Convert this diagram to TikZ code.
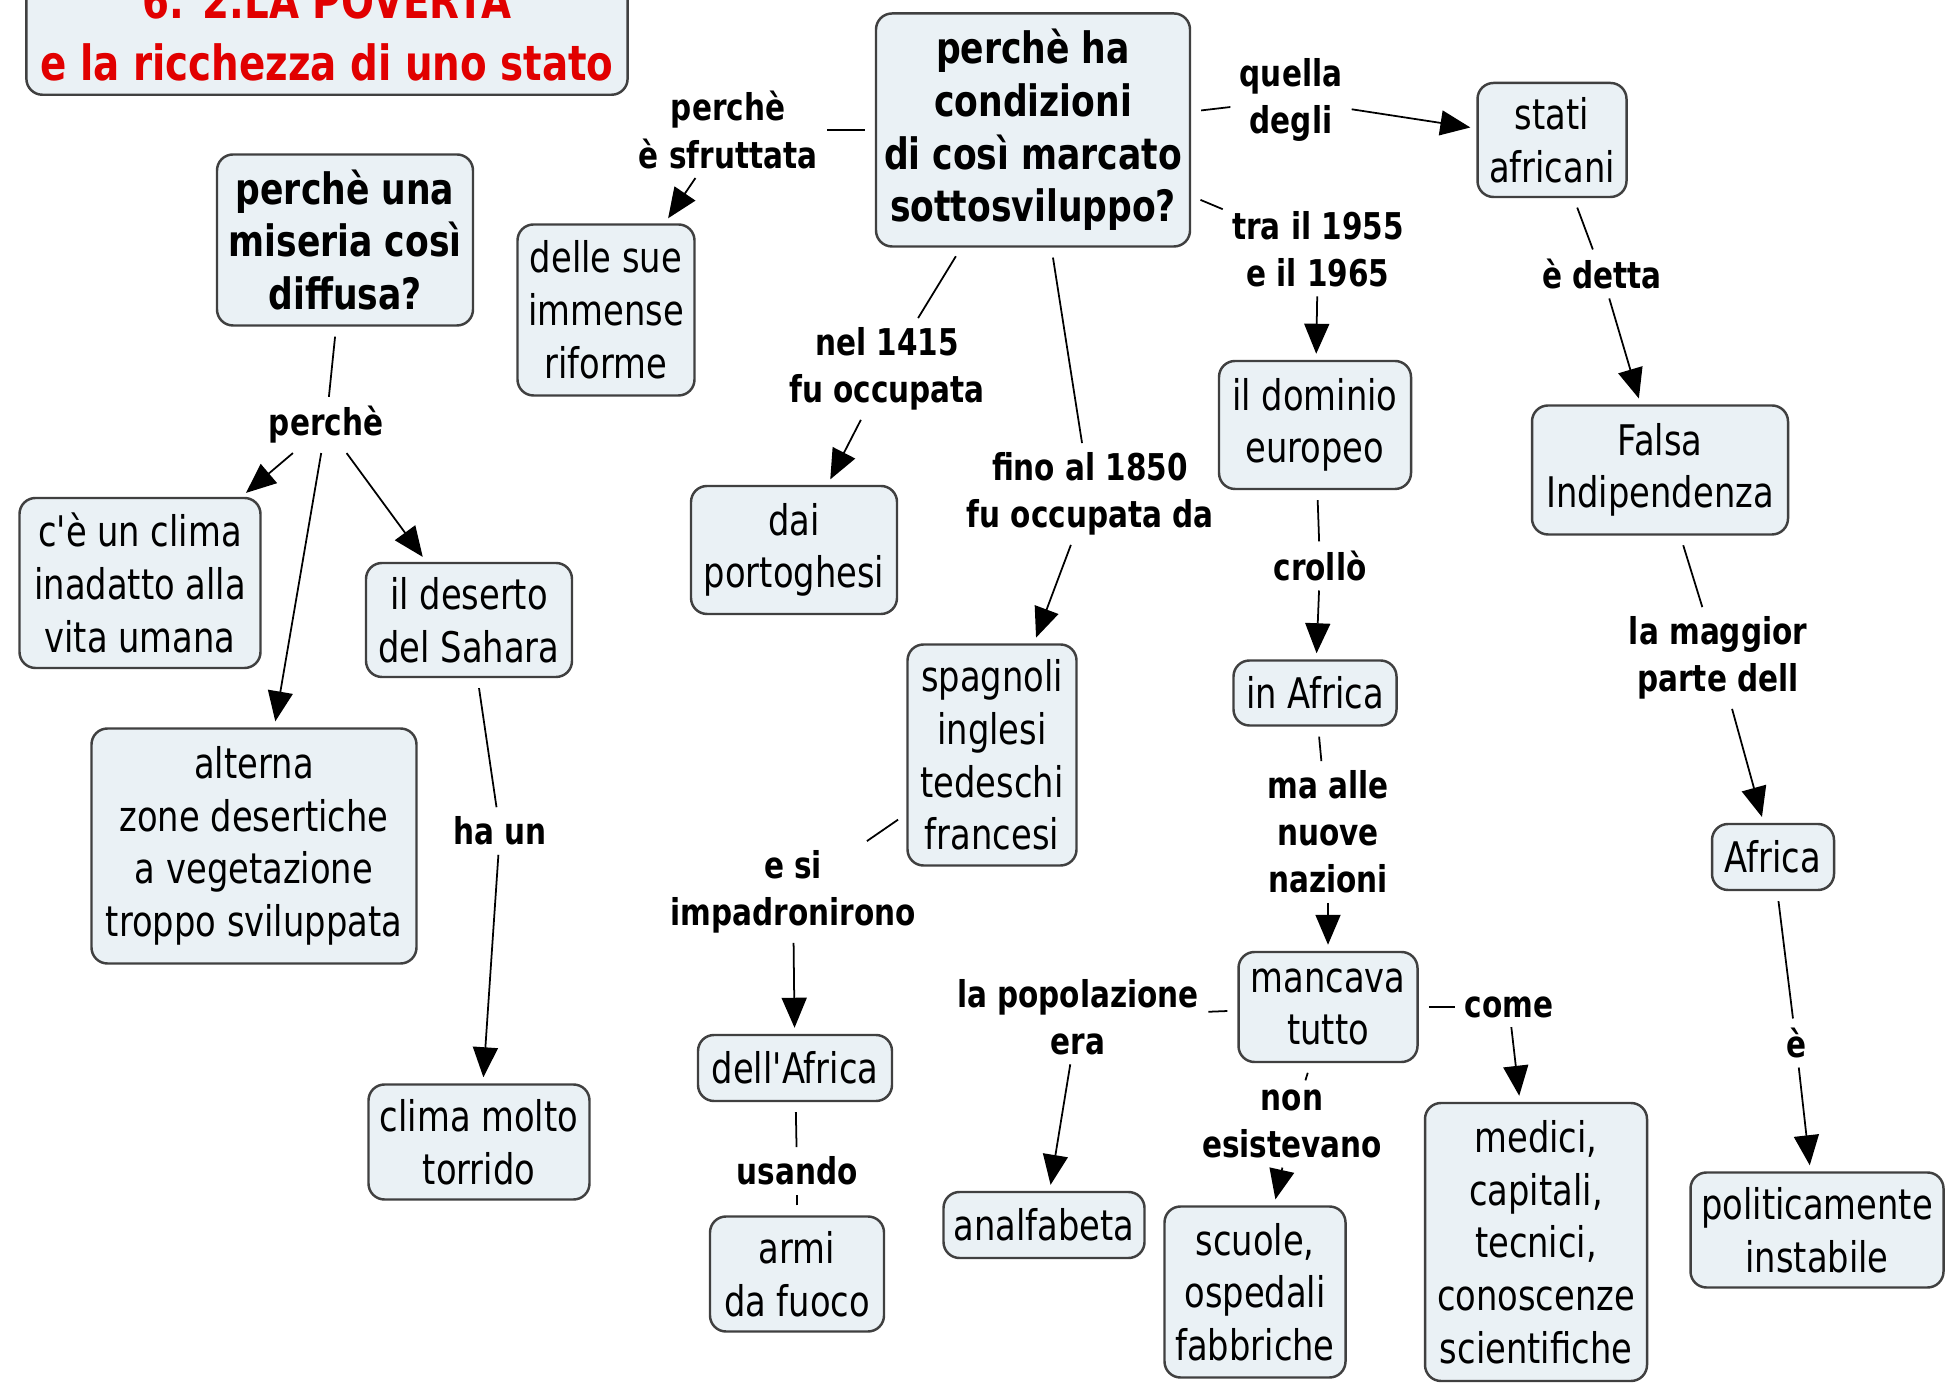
\documentclass[tikz,border=0pt]{standalone}
\usepackage{fontspec}
\setmainfont{DejaVu Sans}[FakeStretch=0.8, Ligatures=TeXOff]
\usetikzlibrary{arrows.meta}
\definecolor{boxfill}{RGB}{234,241,245}
\definecolor{titlered}{RGB}{225,0,0}
\tikzset{
  concept/.style={rectangle, rounded corners=1.6mm, draw=black!75, line width=0.7pt, fill=boxfill, align=center, inner sep=2pt, font=\fontsize{12}{15}\selectfont},
  question/.style={concept, font=\fontsize{12.3}{15}\selectfont\bfseries},
  phrase/.style={align=center, inner sep=2.5pt, font=\fontsize{10.5}{13.4}\selectfont\bfseries},
  linkline/.style={draw, line width=0.5pt, shorten <=1mm},
  linkarrow/.style={draw, line width=0.5pt, -{Triangle[length=3mm,width=2.5mm]}, shorten >=0.6mm},
}
\begin{document}
\begin{tikzpicture}
  \useasboundingbox (0, 0) rectangle (19.46, 13.83);
  \fill[white] (0, 0) rectangle (19.46, 13.83);
  % Nodes
  \node (title) [concept, anchor=south, minimum width=5.99cm, inner sep=4pt, text=titlered, font=\fontsize{13.8}{17.6}\selectfont\bfseries] at (3.27, 12.87) {6. 2.LA POVERTA\\e la ricchezza di uno stato};
  \node (miseria) [question, minimum width=2.56cm, minimum height=1.71cm] at (3.45, 11.43) {perchè una\\miseria così\\diffusa?};
  \node (sottosv) [question, minimum width=3.14cm, minimum height=2.33cm] at (10.33, 12.53) {perchè ha\\condizioni\\di così marcato\\sottosviluppo?};
  \node (riforme) [concept, minimum width=1.77cm, minimum height=1.71cm] at (6.06, 10.73) {delle sue\\immense\\riforme};
  \node (stati) [concept, minimum width=1.49cm, minimum height=1.14cm] at (15.52, 12.43) {stati\\africani};
  \node (falsa) [concept, minimum width=2.56cm, minimum height=1.29cm] at (16.60, 9.13) {Falsa\\Indipendenza};
  \node (africa) [concept, minimum width=1.22cm, minimum height=0.66cm] at (17.73, 5.26) {Africa};
  \node (instabile) [concept, minimum width=2.53cm, minimum height=1.15cm] at (18.17, 1.53) {politicamente\\instabile};
  \node (dominio) [concept, minimum width=1.92cm, minimum height=1.28cm] at (13.15, 9.58) {il dominio\\europeo};
  \node (inafrica) [concept, minimum width=1.63cm, minimum height=0.65cm] at (13.15, 6.90) {in Africa};
  \node (mancava) [concept, minimum width=1.79cm, minimum height=1.10cm] at (13.28, 3.76) {mancava\\tutto};
  \node (medici) [concept, minimum width=2.22cm, minimum height=2.78cm] at (15.36, 1.41) {medici,\\capitali,\\tecnici,\\conoscenze\\scientifiche};
  \node (scuole) [concept, minimum width=1.81cm, minimum height=1.71cm] at (12.55, 0.91) {scuole,\\ospedali\\fabbriche};
  \node (analfabeta) [concept, minimum width=2.01cm, minimum height=0.66cm] at (10.44, 1.58) {analfabeta};
  \node (portoghesi) [concept, minimum width=2.06cm, minimum height=1.28cm] at (7.94, 8.33) {dai\\portoghesi};
  \node (europei) [concept, minimum width=1.69cm, minimum height=2.21cm] at (9.92, 6.28) {spagnoli\\inglesi\\tedeschi\\francesi};
  \node (dellafrica) [concept, minimum width=1.94cm, minimum height=0.66cm] at (7.95, 3.15) {dell'Africa};
  \node (armi) [concept, minimum width=1.74cm, minimum height=1.15cm] at (7.97, 1.09) {armi\\da fuoco};
  \node (clima) [concept, minimum width=2.41cm, minimum height=1.70cm] at (1.40, 8.00) {c'è un clima\\inadatto alla\\vita umana};
  \node (sahara) [concept, minimum width=2.06cm, minimum height=1.14cm] at (4.69, 7.63) {il deserto\\del Sahara};
  \node (alterna) [concept, minimum width=3.25cm, minimum height=2.35cm] at (2.54, 5.37) {alterna\\zone desertiche\\a vegetazione\\troppo sviluppata};
  \node (torrido) [concept, minimum width=2.21cm, minimum height=1.15cm] at (4.79, 2.41) {clima molto\\torrido};
  % Linking phrases
  \node (pPerche) [phrase] at (3.26, 9.58) {perchè};
  \node (pSfrutt) [phrase] at (7.28, 12.53) {perchè\\è sfruttata};
  \node (pQuella) [phrase] at (12.91, 12.83) {quella\\degli};
  \node (pTra) [phrase] at (13.18, 11.34) {tra il 1955\\e il 1965};
  \node (pNel) [phrase] at (8.87, 10.14) {nel 1415\\fu occupata};
  \node (pFino) [phrase] at (10.90, 8.89) {fino al 1850\\fu occupata da};
  \node (pDetta) [phrase] at (16.02, 11.09) {è detta};
  \node (pMaggior) [phrase] at (17.18, 7.25) {la maggior\\parte dell};
  \node (pE) [phrase] at (17.96, 3.40) {è};
  \node (pCrollo) [phrase] at (13.20, 8.17) {crollò};
  \node (pMaAlle) [phrase] at (13.28, 5.51) {ma alle\\nuove\\nazioni};
  \node (pPopol) [phrase] at (10.78, 3.66) {la popolazione\\era};
  \node (pNon) [phrase] at (12.92, 2.59) {non\\esistevano};
  \node (pCome) [phrase] at (15.09, 3.76) {come};
  \node (pImpadr) [phrase] at (7.93, 4.91) {e si\\impadronirono};
  \node (pUsando) [phrase] at (7.97, 2.12) {usando};
  \node (pHaUn) [phrase] at (5.00, 5.52) {ha un};
  % Arrows
  \draw[linkline] (miseria) -- (pPerche);
  \draw[linkarrow] (pPerche) -- (clima);
  \draw[linkarrow] (pPerche) -- (alterna);
  \draw[linkarrow] (pPerche) -- (sahara);
  \draw[linkline] (sahara) -- (pHaUn);
  \draw[linkarrow] (pHaUn) -- (torrido);
  \draw[linkline] (sottosv) -- (pSfrutt);
  \draw[linkarrow] (pSfrutt) -- (riforme);
  \draw[linkline] (sottosv) -- (pQuella);
  \draw[linkarrow] (pQuella) -- (stati);
  \draw[linkline] (sottosv) -- (pTra);
  \draw[linkarrow] (pTra) -- (dominio);
  \draw[linkline] (sottosv) -- (pNel);
  \draw[linkarrow] (pNel) -- (portoghesi);
  \draw[linkline] (sottosv) -- (pFino);
  \draw[linkarrow] (pFino) -- (europei);
  \draw[linkline] (europei) -- (pImpadr);
  \draw[linkarrow] (pImpadr) -- (dellafrica);
  \draw[linkline] (dellafrica) -- (pUsando);
  \draw[linkline] (armi) -- (pUsando);
  \draw[linkline] (stati) -- (pDetta);
  \draw[linkarrow] (pDetta) -- (falsa);
  \draw[linkline] (falsa) -- (pMaggior);
  \draw[linkarrow] (pMaggior) -- (africa);
  \draw[linkline] (africa) -- (pE);
  \draw[linkarrow] (pE) -- (instabile);
  \draw[linkline] (dominio) -- (pCrollo);
  \draw[linkarrow] (pCrollo) -- (inafrica);
  \draw[linkline] (inafrica) -- (pMaAlle);
  \draw[linkarrow] (pMaAlle) -- (mancava);
  \draw[linkline] (mancava) -- (pPopol);
  \draw[linkarrow] (pPopol) -- (analfabeta);
  \draw[linkline] (mancava) -- (pNon);
  \draw[linkarrow] (pNon) -- (scuole);
  \draw[linkline] (mancava) -- (pCome);
  \draw[linkarrow] (pCome) -- (medici);
\end{tikzpicture}
\end{document}
